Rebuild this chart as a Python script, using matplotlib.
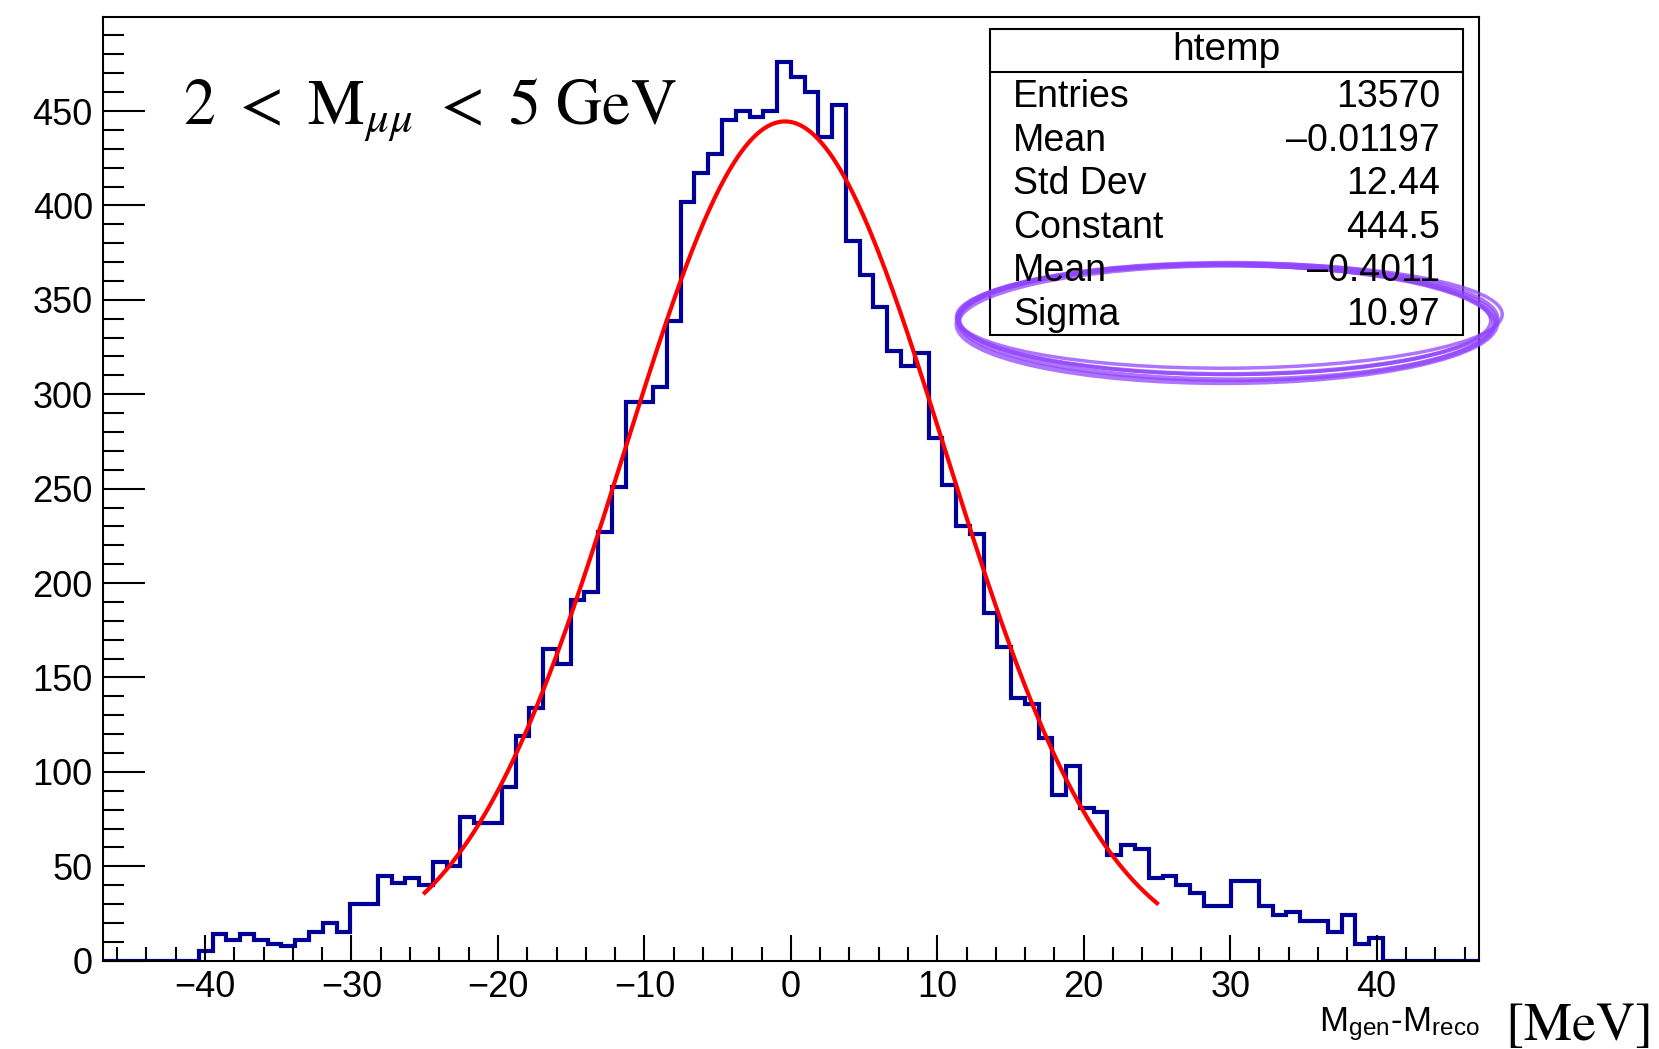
import numpy as np
import matplotlib
matplotlib.use('Agg')
import matplotlib.pyplot as plt
from matplotlib.patches import Ellipse, Rectangle
from matplotlib.lines import Line2D
from matplotlib.ticker import MultipleLocator

plt.rcParams['font.family'] = ['Liberation Sans', 'DejaVu Sans']
plt.rcParams['mathtext.fontset'] = 'stix'

# histogram: 100 bins from -47 to 47
x_min, x_max, n_bins = -47, 47, 100
counts = [0, 0, 0, 0, 0, 0, 0, 5, 14, 11,
          14, 11, 9, 8, 11, 15, 20, 15, 30, 30,
          45, 41, 44, 40, 52, 50, 76, 73, 73, 92,
          119, 134, 165, 157, 191, 195, 227, 251, 296, 296,
          304, 339, 402, 417, 427, 445, 450, 447, 450, 476,
          468, 460, 436, 453, 381, 363, 346, 323, 315, 322,
          277, 252, 230, 226, 184, 166, 139, 136, 118, 88,
          103, 81, 79, 56, 61, 59, 44, 45, 40, 36,
          29, 29, 42, 42, 29, 24, 26, 21, 21, 15,
          24, 9, 12, 0, 0, 0, 0, 0, 0, 0]
y_top = 1.05 * max(counts)

# gaussian fit
fit_const, fit_mean, fit_sigma = 444.5, -0.4011, 10.97
fit_lo, fit_hi = -25, 25

stats_title = "htemp"
stats_names = ["Entries", "Mean", "Std Dev", "Constant", "Mean", "Sigma"]
stats_vals = ["13570", "\u20130.01197", "12.44", "444.5", "\u20130.4011", "10.97"]

fig = plt.figure(figsize=(16.59, 10.49), dpi=100)
ax = fig.add_axes([0.0618, 0.0842, 0.8298, 0.8996])

edges = np.linspace(x_min, x_max, n_bins + 1)
ax.stairs(counts, edges, color='#000099', lw=3)

xf = np.linspace(fit_lo, fit_hi, 400)
ax.plot(xf, fit_const * np.exp(-0.5 * ((xf - fit_mean) / fit_sigma) ** 2), color='red', lw=3)

ax.set_xlim(x_min, x_max)
ax.set_ylim(0, y_top)
ax.xaxis.set_major_locator(MultipleLocator(10))
ax.xaxis.set_minor_locator(MultipleLocator(2))
ax.yaxis.set_major_locator(MultipleLocator(50))
ax.yaxis.set_minor_locator(MultipleLocator(10))
ax.tick_params(direction='in', which='both', top=False, right=False, width=1.5,
               labelsize=26, pad=7)
ax.tick_params(axis='y', which='major', length=30)
ax.tick_params(axis='y', which='minor', length=15)
ax.tick_params(axis='x', which='major', length=19)
ax.tick_params(axis='x', which='minor', length=10)
for s in ax.spines.values():
    s.set_linewidth(1.5)

# title inside the pad
fig.text(0.1103, 0.881, r"$2\ <\ \mathrm{M}_{\mu\mu}\ <\ 5\ \mathrm{GeV}$", fontsize=46,
         ha='left', va='baseline')

# axis title
fig.text(0.8921, 0.017, r"M$_\mathregular{gen}$-M$_\mathregular{reco}$", fontsize=25,
         ha='right', va='baseline')
fig.text(0.9070, 0.009, r"$[\mathrm{MeV}]$", fontsize=39, ha='left', va='baseline')

# stats box
bx0, bx1, by0, by1, bhead = 0.5967, 0.8819, 0.6807, 0.9728, 0.9316
fig.add_artist(Rectangle((bx0, by0), bx1 - bx0, by1 - by0, transform=fig.transFigure,
                         fc='white', ec='black', lw=1.5))
fig.add_artist(Line2D([bx0, bx1], [bhead, bhead], transform=fig.transFigure, color='black', lw=1.5))
fig.text((bx0 + bx1) / 2, 0.943, stats_title, fontsize=28, ha='center', va='baseline')
row_y = 1 - 107 / 1049
step = 43.6 / 1049
for i in range(len(stats_names)):
    fig.text(0.6106, row_y - i * step, stats_names[i], fontsize=27, ha='left', va='baseline')
    fig.text(0.8680, row_y - i * step, stats_vals[i], fontsize=27, ha='right', va='baseline')

# hand drawn circle around Sigma
strokes = [(0.7399, 0.6964, 0.3255, 0.1060, 0, 3.0),
           (0.7390, 0.6930, 0.3230, 0.1100, -0.7, 3.5),
           (0.7410, 0.6990, 0.3290, 0.1000, 0.5, 2.5),
           (0.7395, 0.6915, 0.3250, 0.1120, 0.2, 4.0),
           (0.7385, 0.6950, 0.3200, 0.1040, -0.3, 2.5)]
for cx, cy, w, h, ang, lw in strokes:
    fig.add_artist(Ellipse((cx, cy), w, h, angle=ang, transform=fig.transFigure,
                           fill=False, ec='#9245ff', lw=lw, alpha=0.75))

fig.savefig('out.png', dpi=100)
